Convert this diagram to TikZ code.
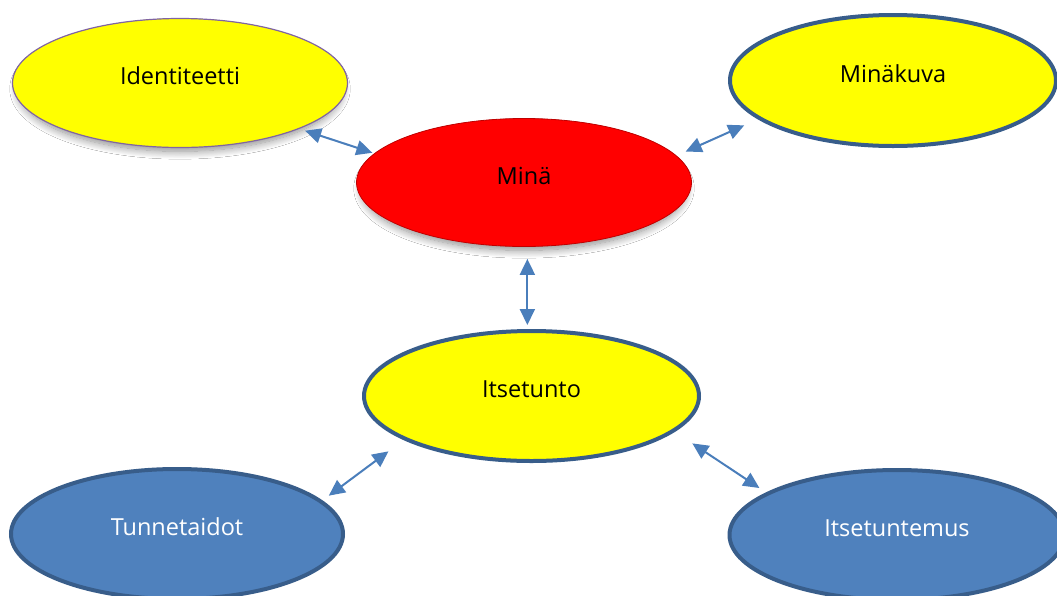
\documentclass[tikz,border=0pt]{standalone}
\usepackage{fontspec}
\setmainfont{Open Sans}[Ligatures={NoCommon}]
\usetikzlibrary{shapes.geometric,arrows.meta,shadows.blur}
\definecolor{bluefill}{RGB}{79,129,189}
\definecolor{blueline}{RGB}{56,93,138}
\definecolor{arrowblue}{RGB}{74,126,187}
\definecolor{lilac}{RGB}{128,100,162}
\definecolor{darkred}{RGB}{192,0,0}
\definecolor{pureyellow}{RGB}{255,255,0}
\definecolor{purered}{RGB}{255,0,0}
\begin{document}
\begin{tikzpicture}[x=1pt,y=-1pt,
  bubble/.style={ellipse, inner sep=0pt, text height=10pt, text depth=7pt,
    font=\fontsize{23.5}{28}\selectfont},
  softshadow/.style={blur shadow={shadow xshift=0pt, shadow yshift=-6pt,
    shadow blur radius=8pt, shadow blur steps=12, shadow scale=0.97, shadow opacity=45}},
  yellowthin/.style={bubble, fill=pureyellow, draw=lilac, line width=1.2pt, softshadow},
  redbubble/.style={bubble, fill=purered, draw=darkred, line width=0.8pt, softshadow},
  yellowthick/.style={bubble, fill=pureyellow, draw=blueline, line width=4pt},
  bluethick/.style={bubble, fill=bluefill, draw=blueline, line width=4pt, text=white},
  link/.style={draw=arrowblue, line width=2pt,
    {Triangle[length=16pt,width=15pt]}-{Triangle[length=16pt,width=15pt]}}
]
\fill[white] (0,0) rectangle (1057,595);
\useasboundingbox (0,0) rectangle (1057,595);

% concept bubbles
\node[yellowthin, minimum width=335pt, minimum height=129pt] (iden) at (180,83) {Identiteetti};
\node[redbubble, minimum width=335pt, minimum height=128pt] (mina) at (524,182.5) {Minä};
\node[yellowthick, minimum width=326pt, minimum height=131pt] (kuva) at (893,80.5) {Minäkuva};
\node[yellowthick, minimum width=335pt, minimum height=130pt] (itse) at (531.5,396) {Itsetunto};
\node[bluethick, minimum width=332pt, minimum height=130pt] (tunne) at (177,534) {Tunnetaidot};
\node[bluethick, minimum width=335pt, minimum height=130pt] (tuntemus) at (897,535) {Itsetuntemus};

% two-way links
\draw[link, shorten <=6pt, shorten >=2pt] (iden.-21.7) -- (mina.169);
\draw[link, shorten <=10pt, shorten >=15pt] (mina.10.7) -- (kuva.196.8);
\draw[link, shorten <=12pt, shorten >=4pt] (mina.-87.8) -- (mina.-87.8 |- itse.north);
\draw[link, shorten <=19pt, shorten >=8pt] (itse.199.4) -- (tunne.13.8);
\draw[link, shorten <=21pt, shorten >=8pt] (itse.-14.5) -- (tuntemus.162.1);
\end{tikzpicture}
\end{document}
